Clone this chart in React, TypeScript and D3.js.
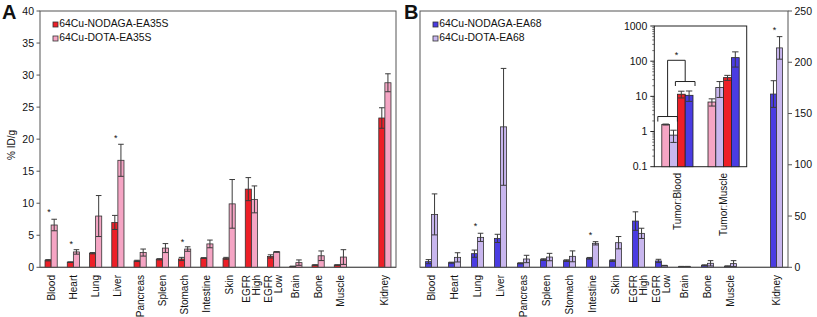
import React from "react";
import * as d3 from "d3";

// ---------- data ----------
const categories = ["Blood", "Heart", "Lung", "Liver", "Pancreas", "Spleen", "Stomach", "Intestine", "Skin", "EGFR High", "EGFR Low", "Brain", "Bone", "Muscle", "Kidney"];

// Panel A (EA35S, %ID/g)
const nodagaEA35S = [1.1, 0.8, 2.2, 7.0, 1.0, 1.25, 1.3, 1.45, 1.4, 12.2, 1.7, 0.15, 0.35, 0.35, 23.3];
const nodagaEA35SErr = [0.1, 0.05, 0.1, 1.1, 0.1, 0.1, 0.25, 0.05, 0.15, 1.8, 0.25, 0.02, 0.05, 0.05, 1.6];
const dotaEA35S = [6.6, 2.4, 8.0, 16.7, 2.3, 3.0, 2.85, 3.65, 9.9, 10.6, 2.4, 0.73, 1.8, 1.6, 28.8];
const dotaEA35SErr = [0.9, 0.35, 3.2, 2.5, 0.55, 0.7, 0.35, 0.6, 3.8, 2.1, 0.05, 0.42, 0.75, 1.15, 1.4];
const starsA = [
  { cat: "Blood", value: 9.0 },
  { cat: "Heart", value: 4.0 },
  { cat: "Liver", value: 20.5 },
  { cat: "Stomach", value: 4.4 },
];

// Panel B (EA68, %ID/g)
const nodagaEA68 = [5.5, 4.5, 13.3, 28.2, 3.9, 7.5, 6.5, 8.8, 6.5, 45.1, 6.2, 0.6, 1.9, 1.0, 169];
const nodagaEA68Err = [2, 0.5, 3.5, 4, 0.5, 0.8, 0.8, 0.8, 0.8, 9, 1.6, 0.3, 0.5, 0.4, 13];
const dotaEA68 = [51.6, 9.7, 29.2, 137, 8.1, 10, 10.7, 23.4, 24, 33.1, 1.6, 0.6, 3.9, 3.6, 214];
const dotaEA68Err = [20, 4.5, 4, 57, 3.6, 3.6, 5.3, 1.6, 6, 5, 0.3, 0.3, 2.6, 2.9, 11];
const starsB = [
  { cat: "Lung", value: 42.3 },
  { cat: "Intestine", value: 33.8 },
  { cat: "Kidney", value: 234 },
];

// Inset (tumor ratios, log scale)
const ratioCats = ["Tumor:Blood", "Tumor:Muscle"];
const ratioSeries = ["64Cu-DOTA-EA35S", "64Cu-DOTA-EA68", "64Cu-NODAGA-EA35S", "64Cu-NODAGA-EA68"];
const ratioDotaEA35S = [1.58, 6.9];
const ratioDotaEA35SErr = [0.05, 1.6];
const ratioDotaEA68 = [0.79, 17.8];
const ratioDotaEA68Err = [0.3, 8.5];
const ratioNodagaEA35S = [11.5, 34];
const ratioNodagaEA35SErr = [2.5, 5.5];
const ratioNodagaEA68 = [10.7, 126];
const ratioNodagaEA68Err = [3.5, 58];
// significance bracket levels (inset log values)
const bracketLow = [2.67, 1.92];
const bracketHigh = [26.4, 19.7];
const bracketTop = 106;
const bracketStar = 175;

const ticksA = [0, 5, 10, 15, 20, 25, 30, 35, 40];
const ticksB = [0, 50, 100, 150, 200, 250];
const ticksInset = [0.1, 1, 10, 100, 1000];

// ---------- styles ----------
const RED = "#ed1f27";
const PINK = "#f5a5c4";
const BLUE = "#4a3ce2";
const LAV = "#c8b6ee";
const BAR_STROKE = "#333";
const ERR = "#3a3a3a";
const FRAME = "#555";
const FONT = "Arial, 'Liberation Sans', Helvetica, sans-serif";

const slots = [...categories.slice(0, 14), "__gap", "Kidney"];

function ErrBar({ x, y1, y2, cap = 2.8 }: { x: number; y1: number; y2: number; cap?: number }) {
  return (
    <g stroke={ERR} strokeWidth={1}>
      <line x1={x} x2={x} y1={y1} y2={y2} />
      <line x1={x - cap} x2={x + cap} y1={y1} y2={y1} />
      <line x1={x - cap} x2={x + cap} y1={y2} y2={y2} />
    </g>
  );
}

function CatLabel({ x, y, text }: { x: number; y: number; text: string }) {
  const parts = text.split(" ");
  if (parts.length === 1) {
    return (
      <text transform={`translate(${x},${y}) rotate(-90)`} textAnchor="end" dy="0.35em" fontSize={10} fontFamily={FONT} fill="#111">
        {text}
      </text>
    );
  }
  return (
    <g>
      {parts.map((p, i) => (
        <text key={i} transform={`translate(${x - 5 + i * 10},${y}) rotate(-90)`} textAnchor="end" dy="0.35em" fontSize={10} fontFamily={FONT} fill="#111">
          {p}
        </text>
      ))}
    </g>
  );
}

function Panel({
  x0, x1, yMax, ticks, a, aErr, b, bErr, colA, colB, stars, axisRight, legendA, legendB, letter, letterX,
}: any) {
  const top = 11;
  const bottom = 267.3;
  const x = d3.scaleBand<string>().domain(slots).range([x0, x1]).padding(0);
  const y = d3.scaleLinear().domain([0, yMax]).range([bottom, top]);
  const bw = 6.1;
  const axX = axisRight ? x1 : x0;
  return (
    <g>
      <text x={letterX} y={19} fontSize={20} fontWeight="bold" fontFamily={FONT} fill="#111">{letter}</text>
      <rect x={x0} y={top} width={x1 - x0} height={bottom - top} fill="white" stroke={FRAME} strokeWidth={1} />
      {ticks.map((t: number) => (
        <g key={t}>
          <line x1={axX} x2={axisRight ? axX + 4 : axX - 3.5} y1={y(t)} y2={y(t)} stroke={FRAME} />
          <text x={axisRight ? axX + 6.5 : axX - 6} y={y(t)} dy="0.35em" textAnchor={axisRight ? "start" : "end"} fontSize={10.5} fontFamily={FONT} fill="#111">{t}</text>
        </g>
      ))}
      {categories.map((c, i) => {
        const cx = (x(c) as number) + x.bandwidth() / 2;
        const xa = cx - bw;
        const xb = cx;
        return (
          <g key={c}>
            <rect x={xa} y={y(a[i])} width={bw} height={bottom - y(a[i])} fill={colA} stroke={BAR_STROKE} strokeWidth={0.8} />
            <rect x={xb} y={y(b[i])} width={bw} height={bottom - y(b[i])} fill={colB} stroke={BAR_STROKE} strokeWidth={0.8} />
            <ErrBar x={xa + bw / 2} y1={y(a[i] + aErr[i])} y2={y(Math.max(0, a[i] - aErr[i]))} />
            <ErrBar x={xb + bw / 2} y1={y(b[i] + bErr[i])} y2={y(Math.max(0, b[i] - bErr[i]))} />
            <CatLabel x={cx} y={275} text={c} />
          </g>
        );
      })}
      <line x1={x0} x2={x1} y1={bottom} y2={bottom} stroke={FRAME} />
      {stars.map((s: any) => {
        const cx = (x(s.cat) as number) + x.bandwidth() / 2 - 2;
        return (
          <text key={s.cat} x={cx} y={y(s.value)} dy="0.6em" textAnchor="middle" fontSize={9} fontFamily={FONT} fill="#111">*</text>
        );
      })}
      {[legendA, legendB].map((l: any, i: number) => (
        <g key={i}>
          <rect x={x0 + 13} y={22 + i * 14} width={5} height={5} fill={i === 0 ? colA : colB} stroke={BAR_STROKE} strokeWidth={0.8} />
          <text x={x0 + 19.3} y={27 + i * 14} fontSize={10.4} fontFamily={FONT} fill="#111">{l}</text>
        </g>
      ))}
    </g>
  );
}

function Inset() {
  const x0 = 654.3, x1 = 746.7, top = 26, bottom = 166.7;
  const x = d3.scaleBand<string>().domain(ratioCats).range([x0, x1]);
  const y = d3.scaleLog().domain([0.1, 1000]).range([bottom, top]);
  const bw = 7.8;
  const series = [
    { v: ratioDotaEA35S, e: ratioDotaEA35SErr, c: PINK },
    { v: ratioDotaEA68, e: ratioDotaEA68Err, c: LAV },
    { v: ratioNodagaEA35S, e: ratioNodagaEA35SErr, c: RED },
    { v: ratioNodagaEA68, e: ratioNodagaEA68Err, c: BLUE },
  ];
  const barX = (ci: number, si: number) => (x(ratioCats[ci]) as number) + x.bandwidth() / 2 - 2 * bw + si * bw;
  const minors: number[] = [];
  [0.1, 1, 10, 100].forEach((d) => { for (let k = 2; k <= 9; k++) minors.push(d * k); });
  const lowL = barX(0, 0) - 4, lowR = barX(0, 1) + bw;
  const hiL = barX(0, 2) - 2, hiR = barX(0, 3) + bw + 2;
  const lowC = (lowL + lowR) / 2, hiC = (hiL + hiR) / 2;
  return (
    <g>
      <rect x={x0} y={top} width={x1 - x0} height={bottom - top} fill="white" stroke="#222" strokeWidth={1} />
      {minors.map((m, i) => (
        <line key={i} x1={x0} x2={x0 - 2} y1={y(m)} y2={y(m)} stroke="#333" strokeWidth={0.7} />
      ))}
      {ticksInset.map((t) => (
        <g key={t}>
          <line x1={x0} x2={x0 - 4} y1={y(t)} y2={y(t)} stroke="#222" />
          <text x={x0 - 7} y={y(t)} dy="0.35em" textAnchor="end" fontSize={10.5} fontFamily={FONT} fill="#111">{t}</text>
        </g>
      ))}
      {ratioCats.map((c, ci) => (
        <g key={c}>
          {series.map((s, si) => {
            const bx = barX(ci, si);
            return (
              <g key={si}>
                <rect x={bx} y={y(s.v[ci])} width={bw} height={bottom - y(s.v[ci])} fill={s.c} stroke="#222" strokeWidth={0.8} />
                <ErrBar x={bx + bw / 2} y1={y(s.v[ci] + s.e[ci])} y2={y(s.v[ci] - s.e[ci])} cap={3.2} />
              </g>
            );
          })}
          <text transform={`translate(${(x(c) as number) + x.bandwidth() / 2},173) rotate(-90)`} textAnchor="end" dy="0.35em" fontSize={10} fontFamily={FONT} fill="#111">{c}</text>
        </g>
      ))}
      <g fill="none" stroke="#222" strokeWidth={1}>
        <path d={`M${lowL},${y(bracketLow[1])}V${y(bracketLow[0])}H${lowR}V${y(bracketLow[1])}`} />
        <path d={`M${hiL},${y(bracketHigh[1])}V${y(bracketHigh[0])}H${hiR}V${y(bracketHigh[1])}`} />
        <path d={`M${lowC},${y(bracketLow[0])}V${y(bracketTop)}H${hiC}V${y(bracketHigh[0])}`} />
      </g>
      <text x={(lowC + hiC) / 2} y={y(bracketStar)} dy="0.6em" textAnchor="middle" fontSize={9} fontFamily={FONT} fill="#111">*</text>
      <title>{ratioSeries.join(", ")}</title>
    </g>
  );
}

export default function App() {
  return (
    <svg width={817} height={317} style={{ position: "absolute", left: 0, top: 0, background: "white" }} fontFamily={FONT}>
      <rect width={817} height={317} fill="white" />
      <Panel
        x0={40} x1={396} yMax={40} ticks={ticksA}
        a={nodagaEA35S} aErr={nodagaEA35SErr} b={dotaEA35S} bErr={dotaEA35SErr}
        colA={RED} colB={PINK} stars={starsA} axisRight={false}
        legendA="64Cu-NODAGA-EA35S" legendB="64Cu-DOTA-EA35S" letter="A" letterX={2}
      />
      <text transform="translate(15,145) rotate(-90)" textAnchor="middle" fontSize={10} fontFamily={FONT} fill="#111">% ID/g</text>
      <Panel
        x0={420} x1={788} yMax={250} ticks={ticksB}
        a={nodagaEA68} aErr={nodagaEA68Err} b={dotaEA68} bErr={dotaEA68Err}
        colA={BLUE} colB={LAV} stars={starsB} axisRight={true}
        legendA="64Cu-NODAGA-EA68" legendB="64Cu-DOTA-EA68" letter="B" letterX={404}
      />
      <Inset />
    </svg>
  );
}
